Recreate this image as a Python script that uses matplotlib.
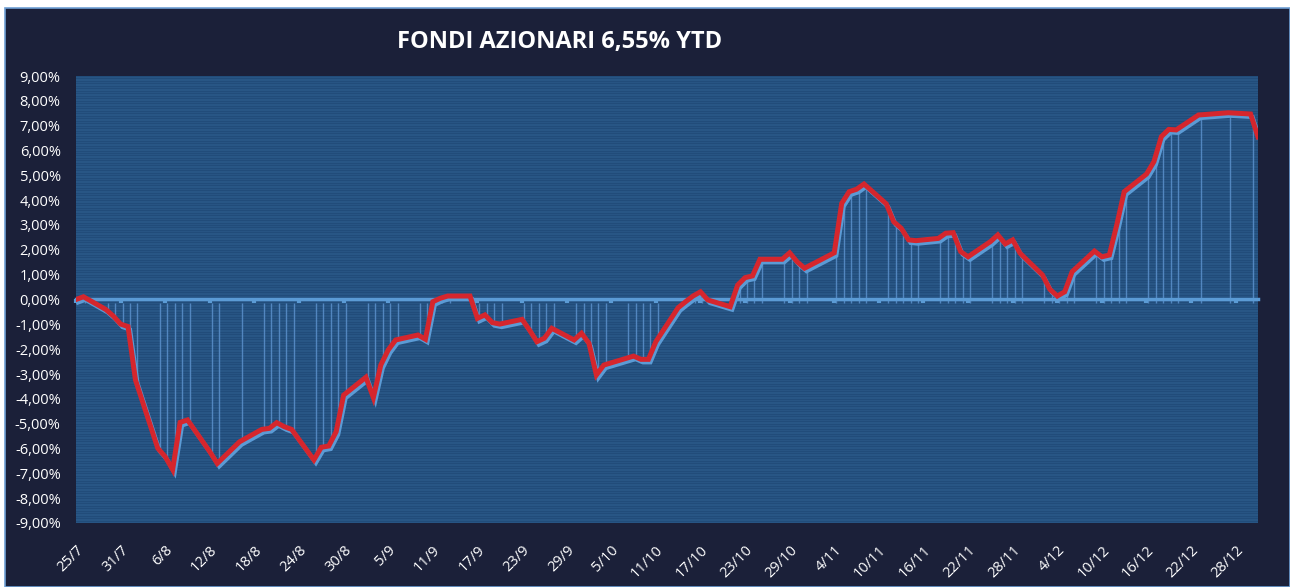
import numpy as np
import pandas as pd
import matplotlib
matplotlib.use("Agg")
import matplotlib.pyplot as plt
from matplotlib.patches import Rectangle
from matplotlib.transforms import offset_copy

# ---------------- data ----------------
year = 2019
dates = ["25/7", "26/7", "29/7", "30/7", "31/7", "1/8", "2/8", "5/8", "6/8", "7/8",
         "8/8", "9/8", "12/8", "13/8", "16/8", "19/8", "20/8", "21/8", "22/8", "23/8",
         "26/8", "27/8", "28/8", "29/8", "30/8", "2/9", "3/9", "4/9", "5/9", "6/9",
         "9/9", "10/9", "11/9", "12/9", "13/9", "16/9", "17/9", "18/9", "19/9", "20/9",
         "23/9", "24/9", "25/9", "26/9", "27/9", "30/9", "1/10", "2/10", "3/10", "4/10",
         "7/10", "8/10", "9/10", "10/10", "11/10", "14/10", "15/10", "16/10", "17/10", "18/10",
         "21/10", "22/10", "23/10", "24/10", "25/10", "28/10", "29/10", "30/10", "31/10", "4/11",
         "5/11", "6/11", "7/11", "8/11", "11/11", "12/11", "13/11", "14/11", "15/11", "18/11",
         "19/11", "20/11", "21/11", "22/11", "25/11", "26/11", "27/11", "28/11", "29/11", "2/12",
         "3/12", "4/12", "5/12", "6/12", "9/12", "10/12", "11/12", "12/12", "13/12", "16/12",
         "17/12", "18/12", "19/12", "20/12", "23/12", "27/12", "30/12", "31/12"]
values = [0.00, 0.11, -0.40, -0.66, -0.99, -1.09, -3.24, -5.99, -6.33, -6.85,
          -4.95, -4.85, -6.13, -6.60, -5.73, -5.23, -5.19, -4.96, -5.12, -5.23,
          -6.46, -5.95, -5.90, -5.32, -3.85, -3.13, -3.95, -2.64, -2.03, -1.63,
          -1.43, -1.60, -0.09, 0.05, 0.14, 0.14, -0.76, -0.62, -0.93, -0.99,
          -0.80, -1.23, -1.70, -1.56, -1.16, -1.63, -1.36, -1.76, -3.04, -2.64,
          -2.37, -2.28, -2.41, -2.41, -1.70, -0.33, -0.09, 0.14, 0.31, -0.02,
          -0.29, 0.58, 0.88, 0.95, 1.62, 1.62, 1.88, 1.52, 1.26, 1.88,
          3.87, 4.34, 4.44, 4.65, 3.85, 3.13, 2.87, 2.40, 2.37, 2.46,
          2.67, 2.69, 1.93, 1.72, 2.33, 2.60, 2.24, 2.40, 1.86, 0.99,
          0.41, 0.14, 0.31, 1.12, 1.95, 1.72, 1.79, 3.00, 4.34, 5.05,
          5.55, 6.56, 6.85, 6.83, 7.43, 7.52, 7.47, 6.55]
tick_labels = ["25/7", "31/7", "6/8", "12/8", "18/8", "24/8", "30/8", "5/9", "11/9",
               "17/9", "23/9", "29/9", "5/10", "11/10", "17/10", "23/10", "29/10",
               "4/11", "10/11", "16/11", "22/11", "28/11", "4/12", "10/12", "16/12",
               "22/12", "28/12"]
y_ticks = np.arange(-9, 9.01, 1.0)
title = "FONDI AZIONARI 6,55% YTD"

# ---------------- helpers ----------------
start = pd.Timestamp(year=year, month=7, day=25)
def to_day(lbls):
    d = pd.to_datetime([f"{s}/{year}" for s in lbls], format="%d/%m/%Y")
    return np.asarray((d - start).days, dtype=float)

x = to_day(dates)
xt = to_day(tick_labels)
end_day = x.max()

NAVY = "#1b2039"
PLOT_BG = "#2a5887"
STRIPE = "#214c7a"
LIGHT = "#5b9bd5"
RED = "#d5262d"
FONT = "Open Sans"

plt.rcParams["font.family"] = [FONT, "DejaVu Sans"]

fig = plt.figure(figsize=(12.9, 5.87), dpi=100)
fig.patch.set_facecolor("white")
fig.add_artist(Rectangle((5 / 1290, 0), 1 - 5 / 1290, 1 - 8 / 587,
                         transform=fig.transFigure, facecolor=NAVY,
                         edgecolor="#6fa0d4", linewidth=1.2, zorder=0))

ax = fig.add_axes([76 / 1290, 1 - 523 / 587, (1258 - 76) / 1290, 447 / 587])
ax.set_facecolor(PLOT_BG)
ax.set_xlim(0, end_day)
ax.set_ylim(-9, 9)
for s in ax.spines.values():
    s.set_visible(False)

# striped background
ax.set_yticks(np.arange(-9, 9.001, 0.1), minor=True)
ax.grid(which="minor", axis="y", color=STRIPE, linewidth=0.9, zorder=0.5)
ax.grid(which="major", axis="y", color=STRIPE, linewidth=0.9, zorder=0.5)
ax.tick_params(axis="y", which="minor", length=0)

# y ticks
ax.set_yticks(y_ticks)
ax.set_yticklabels([f"{v:.2f}%".replace(".", ",") for v in y_ticks])
ax.tick_params(axis="y", which="major", length=0, pad=11, labelsize=10.5,
               labelcolor="white")

# x ticks (labels at bottom)
ax.set_xticks(xt)
ax.set_xticklabels(tick_labels, rotation=45, ha="right", va="top",
                   rotation_mode="anchor")
ax.tick_params(axis="x", length=0, pad=14, labelsize=10.5, labelcolor="white")

# shadow line and drop lines
shadow = offset_copy(ax.transData, fig=fig, x=2, y=-3, units="dots")
ax.vlines(x, 0, values, colors="#5a90cb", linewidth=1.0, alpha=0.85,
          transform=shadow, zorder=1.8)
ax.plot(x, values, color=LIGHT, linewidth=3.0, transform=shadow,
        zorder=2.2, solid_joinstyle="miter")

# zero axis with tick marks pointing down
sec = ax.secondary_xaxis(0.5)
sec.set_xticks(xt)
sec.set_xticklabels([])
sec.tick_params(axis="x", direction="in", length=3, width=3, color=LIGHT)
for sp in sec.spines.values():
    sp.set_color(LIGHT)
    sp.set_linewidth(2.5)
sec.set_zorder(2.0)

# main line
ax.plot(x, values, color=RED, linewidth=3.6, zorder=3, solid_joinstyle="miter")

fig.text(560 / 1290, 1 - 42 / 587, title, ha="center", va="center",
         fontsize=17, fontweight="bold", color="white")

fig.savefig("out.png", dpi=100, facecolor=fig.get_facecolor())
